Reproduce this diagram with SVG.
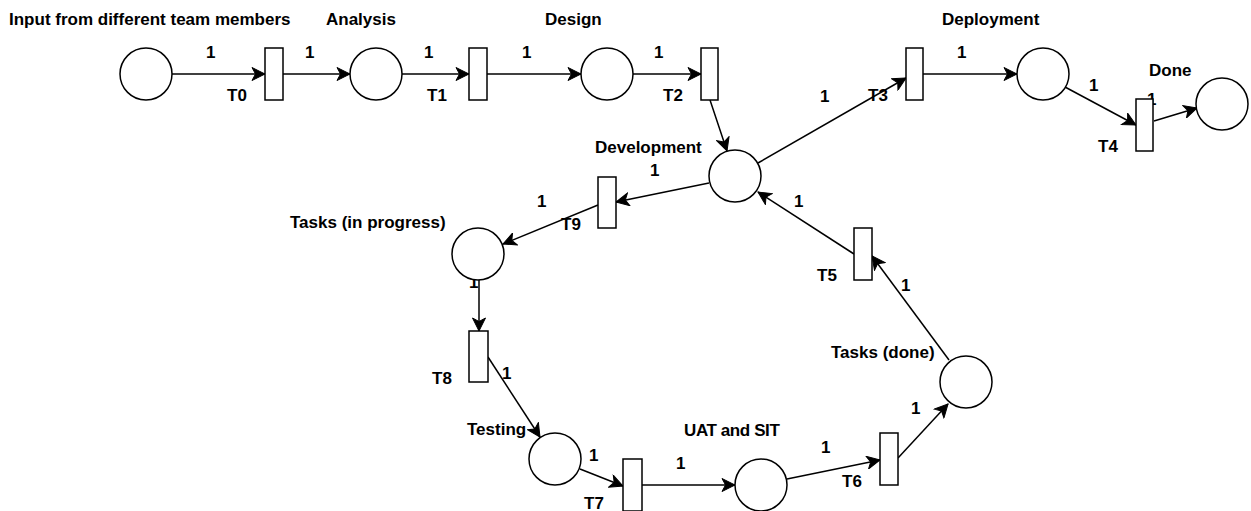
<svg xmlns="http://www.w3.org/2000/svg" width="1251" height="511" viewBox="0 0 1251 511">
<style>
.place{fill:#fff;stroke:#000;stroke-width:1.5}
.trans{fill:#fff;stroke:#000;stroke-width:1.5}
.arc{fill:none;stroke:#000;stroke-width:1.5;marker-end:url(#ah)}
text{font-family:"Liberation Sans",Arial,Helvetica,sans-serif;font-weight:bold;font-size:17px;fill:#000}
</style>
<defs>
<marker id="ah" markerUnits="userSpaceOnUse" viewBox="-14 -7 15 14" markerWidth="15" markerHeight="14" refX="0" refY="0" orient="auto">
<path d="M0,0 L-13,-6.5 L-9.5,0 L-13,6.5 Z" fill="#000" stroke="#000" stroke-width="1"/>
</marker>
</defs>
<rect width="1251" height="511" fill="#fff"/>
<g id="connectors">
<line class="arc" x1="172" y1="74" x2="265" y2="74"/>
<line class="arc" x1="283" y1="74" x2="350" y2="74"/>
<line class="arc" x1="402" y1="74" x2="469" y2="74"/>
<line class="arc" x1="487" y1="74" x2="581" y2="74"/>
<line class="arc" x1="633" y1="74" x2="701" y2="74"/>
<line class="arc" x1="710" y1="100" x2="727" y2="151"/>
<line class="arc" x1="758" y1="163" x2="906" y2="78"/>
<line class="arc" x1="923" y1="74" x2="1017" y2="74"/>
<line class="arc" x1="1065" y1="87" x2="1136" y2="125"/>
<line class="arc" x1="1154" y1="121" x2="1197" y2="108"/>
<line class="arc" x1="709" y1="183" x2="616" y2="202"/>
<line class="arc" x1="598" y1="205" x2="503" y2="244"/>
<line class="arc" x1="479" y1="280" x2="479" y2="331"/>
<line class="arc" x1="488" y1="357" x2="540" y2="437"/>
<line class="arc" x1="580" y1="469" x2="623" y2="486"/>
<line class="arc" x1="642" y1="485" x2="735" y2="485"/>
<line class="arc" x1="787" y1="479" x2="880" y2="460"/>
<line class="arc" x1="898" y1="458" x2="948" y2="404"/>
<line class="arc" x1="949" y1="360" x2="872" y2="256"/>
<line class="arc" x1="854" y1="254" x2="758" y2="192"/>
<text x="206" y="58">1</text>
<text x="305" y="58">1</text>
<text x="424" y="58">1</text>
<text x="522" y="58">1</text>
<text x="654" y="58">1</text>
<text x="820" y="102">1</text>
<text x="957" y="58">1</text>
<text x="1089" y="91">1</text>
<text x="1147" y="105">1</text>
<text x="650" y="176">1</text>
<text x="537" y="207">1</text>
<text x="794" y="207">1</text>
<text x="469" y="288">1</text>
<text x="502" y="379">1</text>
<text x="589" y="461">1</text>
<text x="676" y="469">1</text>
<text x="821" y="453">1</text>
<text x="911" y="414">1</text>
<text x="901" y="291">1</text>
</g>
<g id="P0"><circle class="place" cx="146" cy="74" r="26"/><text x="9" y="25">Input from different team members</text></g>
<g id="P_analysis"><circle class="place" cx="376" cy="74" r="26"/><text x="326" y="25">Analysis</text></g>
<g id="P_design"><circle class="place" cx="607" cy="74" r="26"/><text x="545" y="25">Design</text></g>
<g id="P_deployment"><circle class="place" cx="1043" cy="74" r="26"/><text x="942" y="25">Deployment</text></g>
<g id="P_done"><circle class="place" cx="1222" cy="104" r="26"/><text x="1149" y="76">Done</text></g>
<g id="P_development"><circle class="place" cx="735" cy="176" r="26"/><text x="595" y="153">Development</text></g>
<g id="P_inprogress"><circle class="place" cx="478" cy="254" r="26"/><text x="290" y="228">Tasks (in progress)</text></g>
<g id="P_testing"><circle class="place" cx="555" cy="459" r="26"/><text x="467" y="435">Testing</text></g>
<g id="P_uat"><circle class="place" cx="761" cy="485" r="26"/><text x="684" y="436" letter-spacing="-0.4">UAT and SIT</text></g>
<g id="P_tasksdone"><circle class="place" cx="966" cy="382" r="26"/><text x="831" y="358">Tasks (done)</text></g>
<g id="T0"><rect class="trans" x="265" y="48" width="18" height="52"/><text x="227" y="101">T0</text></g>
<g id="T1"><rect class="trans" x="469" y="48" width="18" height="52"/><text x="427" y="101">T1</text></g>
<g id="T2"><rect class="trans" x="701" y="48" width="17" height="52"/><text x="663" y="101">T2</text></g>
<g id="T3"><rect class="trans" x="906" y="48" width="17" height="52"/><text x="868" y="101">T3</text></g>
<g id="T4"><rect class="trans" x="1136" y="99" width="17" height="52"/><text x="1098" y="152">T4</text></g>
<g id="T5"><rect class="trans" x="854" y="228" width="18" height="52"/><text x="817" y="281">T5</text></g>
<g id="T6"><rect class="trans" x="880" y="433" width="18" height="52"/><text x="842" y="487">T6</text></g>
<g id="T7"><rect class="trans" x="623" y="459" width="19" height="52"/><text x="584" y="509">T7</text></g>
<g id="T8"><rect class="trans" x="469" y="331" width="19" height="51"/><text x="432" y="384">T8</text></g>
<g id="T9"><rect class="trans" x="598" y="177" width="18" height="51"/><text x="561" y="230">T9</text></g>
</svg>
